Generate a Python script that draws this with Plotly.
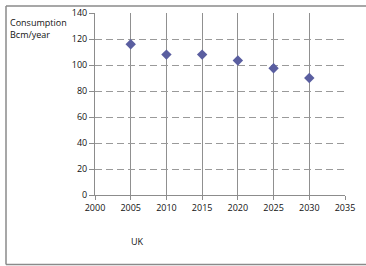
import plotly.graph_objects as go

years = [2005, 2010, 2015, 2020, 2025, 2030]
consumption = [116, 108, 108, 103.5, 97.5, 90]
x_ticks = [2000, 2005, 2010, 2015, 2020, 2025, 2030, 2035]
y_ticks = [0, 20, 40, 60, 80, 100, 120, 140]

fig = go.Figure()
fig.add_trace(go.Scatter(
    x=years, y=consumption, mode="markers",
    marker=dict(symbol="diamond", size=8, color="#5A5EA0"),
    showlegend=False, cliponaxis=False,
))

font = dict(family="Open Sans, Liberation Sans, sans-serif", size=9, color="#111")
border = dict(color="#8a8a8a", width=1.5)
bx0, bx1, by0, by1 = -0.356, 1.2, -0.382, 1.0385

fig.update_layout(
    width=366, height=266,
    margin=dict(l=95, r=21, t=13, b=71),
    paper_bgcolor="white", plot_bgcolor="white",
    font=font,
    xaxis=dict(range=[2000, 2035], tickvals=x_ticks, showgrid=True,
               gridcolor="#909090", gridwidth=1, zeroline=False,
               showline=True, linecolor="#8c8c8c", ticks="outside",
               ticklen=4, tickcolor="#8c8c8c", mirror=False, fixedrange=True,
               automargin=False),
    yaxis=dict(range=[0, 140], tickvals=y_ticks, showgrid=True,
               gridcolor="#9a9a9a", gridwidth=1, griddash="7px,4px",
               zeroline=False, showline=True, linecolor="#8c8c8c",
               ticks="outside", ticklen=5, tickcolor="#8c8c8c", fixedrange=True,
               automargin=False),
    shapes=[
        dict(type="line", xref="paper", yref="paper", x0=bx0, x1=bx0, y0=by0, y1=by1, line=border, layer="below"),
        dict(type="line", xref="paper", yref="paper", x0=bx0, x1=bx1, y0=by1, y1=by1, line=border, layer="below"),
        dict(type="line", xref="paper", yref="paper", x0=bx0, x1=bx1, y0=by0, y1=by0, line=border, layer="below"),
    ],
    annotations=[
        dict(text="Consumption<br>Bcm/year", xref="paper", yref="paper",
             x=-0.348, y=0.995, xanchor="left", yanchor="top", showarrow=False,
             align="left", font=font),
        dict(text="UK", xref="paper", yref="paper", x=0.17, y=-0.255,
             xanchor="center", yanchor="middle", showarrow=False, font=font),
    ],
)

fig.write_html("out.html", config={"displayModeBar": False},
               post_script="document.body.style.margin='0';document.body.style.overflow='hidden';")
